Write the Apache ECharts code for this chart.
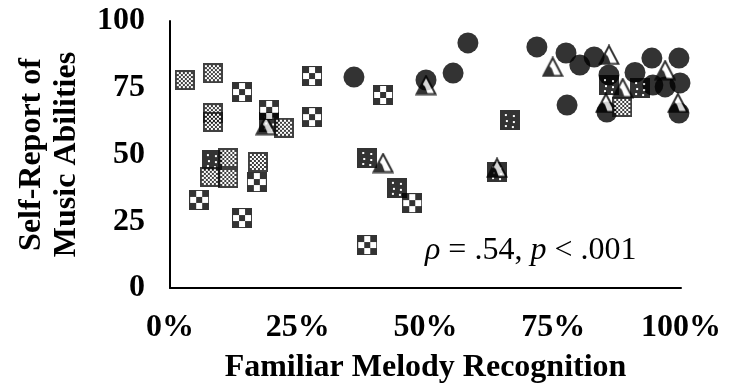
<!DOCTYPE html>
<html>
<head>
<meta charset="utf-8">
<script src="https://cdn.jsdelivr.net/npm/echarts@6/dist/echarts.min.js"></script>
<style>
  html, body { margin: 0; padding: 0; background: #fff; }
  #chart { width: 729px; height: 391px; }
</style>
</head>
<body>
<div id="chart"></div>
<script>
// Axis ticks
const xTicks = [0, 25, 50, 75, 100];
const yTicks = [0, 25, 50, 75, 100];

// Participants: [familiar melody recognition %, self-report score]
const solidCircles = [
  [36.0, 79.0], [50.1, 77.9], [55.4, 80.5], [58.3, 91.8], [71.8, 90.3],
  [77.5, 88.0], [80.2, 83.5], [83.0, 86.5], [85.9, 79.8], [77.7, 68.5],
  [85.5, 65.9], [91.0, 80.7], [94.3, 86.1], [99.6, 86.1], [94.5, 76.0],
  [96.9, 75.3], [99.8, 76.8], [99.6, 65.5]
];
const dottedSquares = [
  [8.2, 47.9], [38.6, 48.7], [44.4, 37.5], [64.0, 43.4], [66.5, 62.9],
  [85.9, 76.0], [92.0, 74.9], [19.4, 62.0]
];
const triangles = [
  [41.7, 46.8], [50.1, 76.0], [64.0, 45.0], [74.9, 82.8], [85.9, 87.3],
  [85.3, 69.3], [88.6, 74.9], [96.9, 81.6], [99.4, 69.3], [18.8, 61.0]
];
const coarseChecks = [
  [14.1, 73.4], [27.8, 79.4], [19.4, 66.7], [27.8, 64.0], [17.0, 39.7],
  [5.7, 33.0], [14.1, 26.2], [41.7, 72.3], [47.4, 31.8], [38.6, 16.1]
];
const fineChecks = [
  [2.9, 77.9], [8.4, 80.5], [8.4, 65.5], [8.4, 62.2], [22.3, 60.0],
  [11.4, 48.7], [7.8, 41.6], [11.4, 41.2], [17.2, 47.2], [88.5, 67.8]
];

const statText = '{i|ρ} = .54, {i|p} < .001';

// Build a marker image on a small canvas
function markerImage(w, h, draw) {
  const c = document.createElement('canvas');
  c.width = w; c.height = h;
  const g = c.getContext('2d');
  draw(g, w, h);
  return 'image://' + c.toDataURL();
}

const coarseSymbol = markerImage(20, 20, (g) => {
  g.fillStyle = '#000';
  g.fillRect(0, 0, 20, 20);
  g.fillStyle = '#fff';
  for (let i = 0; i < 3; i++) for (let j = 0; j < 3; j++) {
    if ((i + j) % 2 === 1) g.fillRect(1 + i * 6, 1 + j * 6, 6, 6);
  }
});

const fineSymbol = markerImage(20, 20, (g) => {
  g.fillStyle = '#111';
  g.fillRect(0, 0, 20, 20);
  g.fillStyle = '#fff';
  for (let i = 0; i < 8; i++) for (let j = 0; j < 8; j++) {
    if ((i + j) % 2 === 0) g.fillRect(2 + i * 2, 2 + j * 2, 2, 2);
  }
});

const dottedSymbol = markerImage(20, 20, (g) => {
  g.fillStyle = '#000';
  g.fillRect(0, 0, 20, 20);
  g.fillStyle = '#fff';
  [[5, 4], [13, 5], [6, 10], [13, 11], [5, 15], [12, 16]].forEach(([x, y]) => g.fillRect(x, y, 2, 2));
});

const triangleSymbol = markerImage(22, 21, (g) => {
  g.beginPath();
  g.moveTo(11, 1.5); g.lineTo(1.5, 19.5); g.lineTo(20.5, 19.5); g.closePath();
  g.fillStyle = '#fff';
  g.fill();
  g.save();
  g.clip();
  g.fillStyle = '#000';
  g.beginPath();
  g.moveTo(1, 20); g.lineTo(7, 9); g.lineTo(10, 12); g.lineTo(13, 20); g.closePath();
  g.fill();
  g.restore();
  g.beginPath();
  g.moveTo(11, 1.5); g.lineTo(1.5, 19.5); g.lineTo(20.5, 19.5); g.closePath();
  g.lineWidth = 2;
  g.strokeStyle = '#000';
  g.stroke();
});

const serif = '"Liberation Serif", "Times New Roman", serif';
const fontSize = 32;

const chart = echarts.init(document.getElementById('chart'), null, { renderer: 'canvas' });
chart.setOption({
  animation: false,
  backgroundColor: '#fff',
  grid: { left: 170, right: 48, top: 21, bottom: 103, containLabel: false },
  xAxis: {
    type: 'value',
    min: xTicks[0], max: xTicks[xTicks.length - 1], interval: xTicks[1] - xTicks[0],
    name: 'Familiar Melody Recognition',
    nameLocation: 'middle', nameGap: 64,
    nameTextStyle: { fontFamily: serif, fontWeight: 'bold', fontSize: fontSize, color: '#000' },
    axisLine: { show: true, lineStyle: { color: '#000', width: 2 } },
    axisTick: { show: false },
    splitLine: { show: false },
    axisLabel: {
      margin: 24, color: '#000', fontFamily: serif, fontWeight: 'bold', fontSize: fontSize,
      formatter: (v) => v + '%'
    }
  },
  yAxis: {
    type: 'value',
    min: yTicks[0], max: yTicks[yTicks.length - 1], interval: yTicks[1] - yTicks[0],
    name: 'Self-Report of\nMusic Abilities',
    nameLocation: 'middle', nameRotate: 90, nameGap: 86,
    nameTextStyle: { fontFamily: serif, fontWeight: 'bold', fontSize: fontSize, lineHeight: 35, color: '#000' },
    axisLine: { show: true, lineStyle: { color: '#000', width: 2 } },
    axisTick: { show: false },
    splitLine: { show: false },
    axisLabel: { margin: 25, color: '#000', fontFamily: serif, fontWeight: 'bold', fontSize: fontSize }
  },
  series: [
    { type: 'scatter', data: solidCircles, symbol: 'circle', symbolSize: 21, itemStyle: { color: '#000' }, z: 2 },
    { type: 'scatter', data: dottedSquares, symbol: dottedSymbol, symbolSize: [20, 20], z: 3 },
    { type: 'scatter', data: triangles, symbol: triangleSymbol, symbolSize: [22, 21], z: 4 },
    { type: 'scatter', data: coarseChecks, symbol: coarseSymbol, symbolSize: [20, 20], z: 5 },
    { type: 'scatter', data: fineChecks, symbol: fineSymbol, symbolSize: [20, 20], z: 6 }
  ],
  graphic: [{
    type: 'text',
    left: 425, top: 235,
    style: {
      text: statText,
      font: fontSize + 'px ' + serif,
      fill: '#000',
      rich: { i: { fontStyle: 'italic', fontFamily: serif, fontSize: fontSize } }
    }
  }]
});
</script>
</body>
</html>
